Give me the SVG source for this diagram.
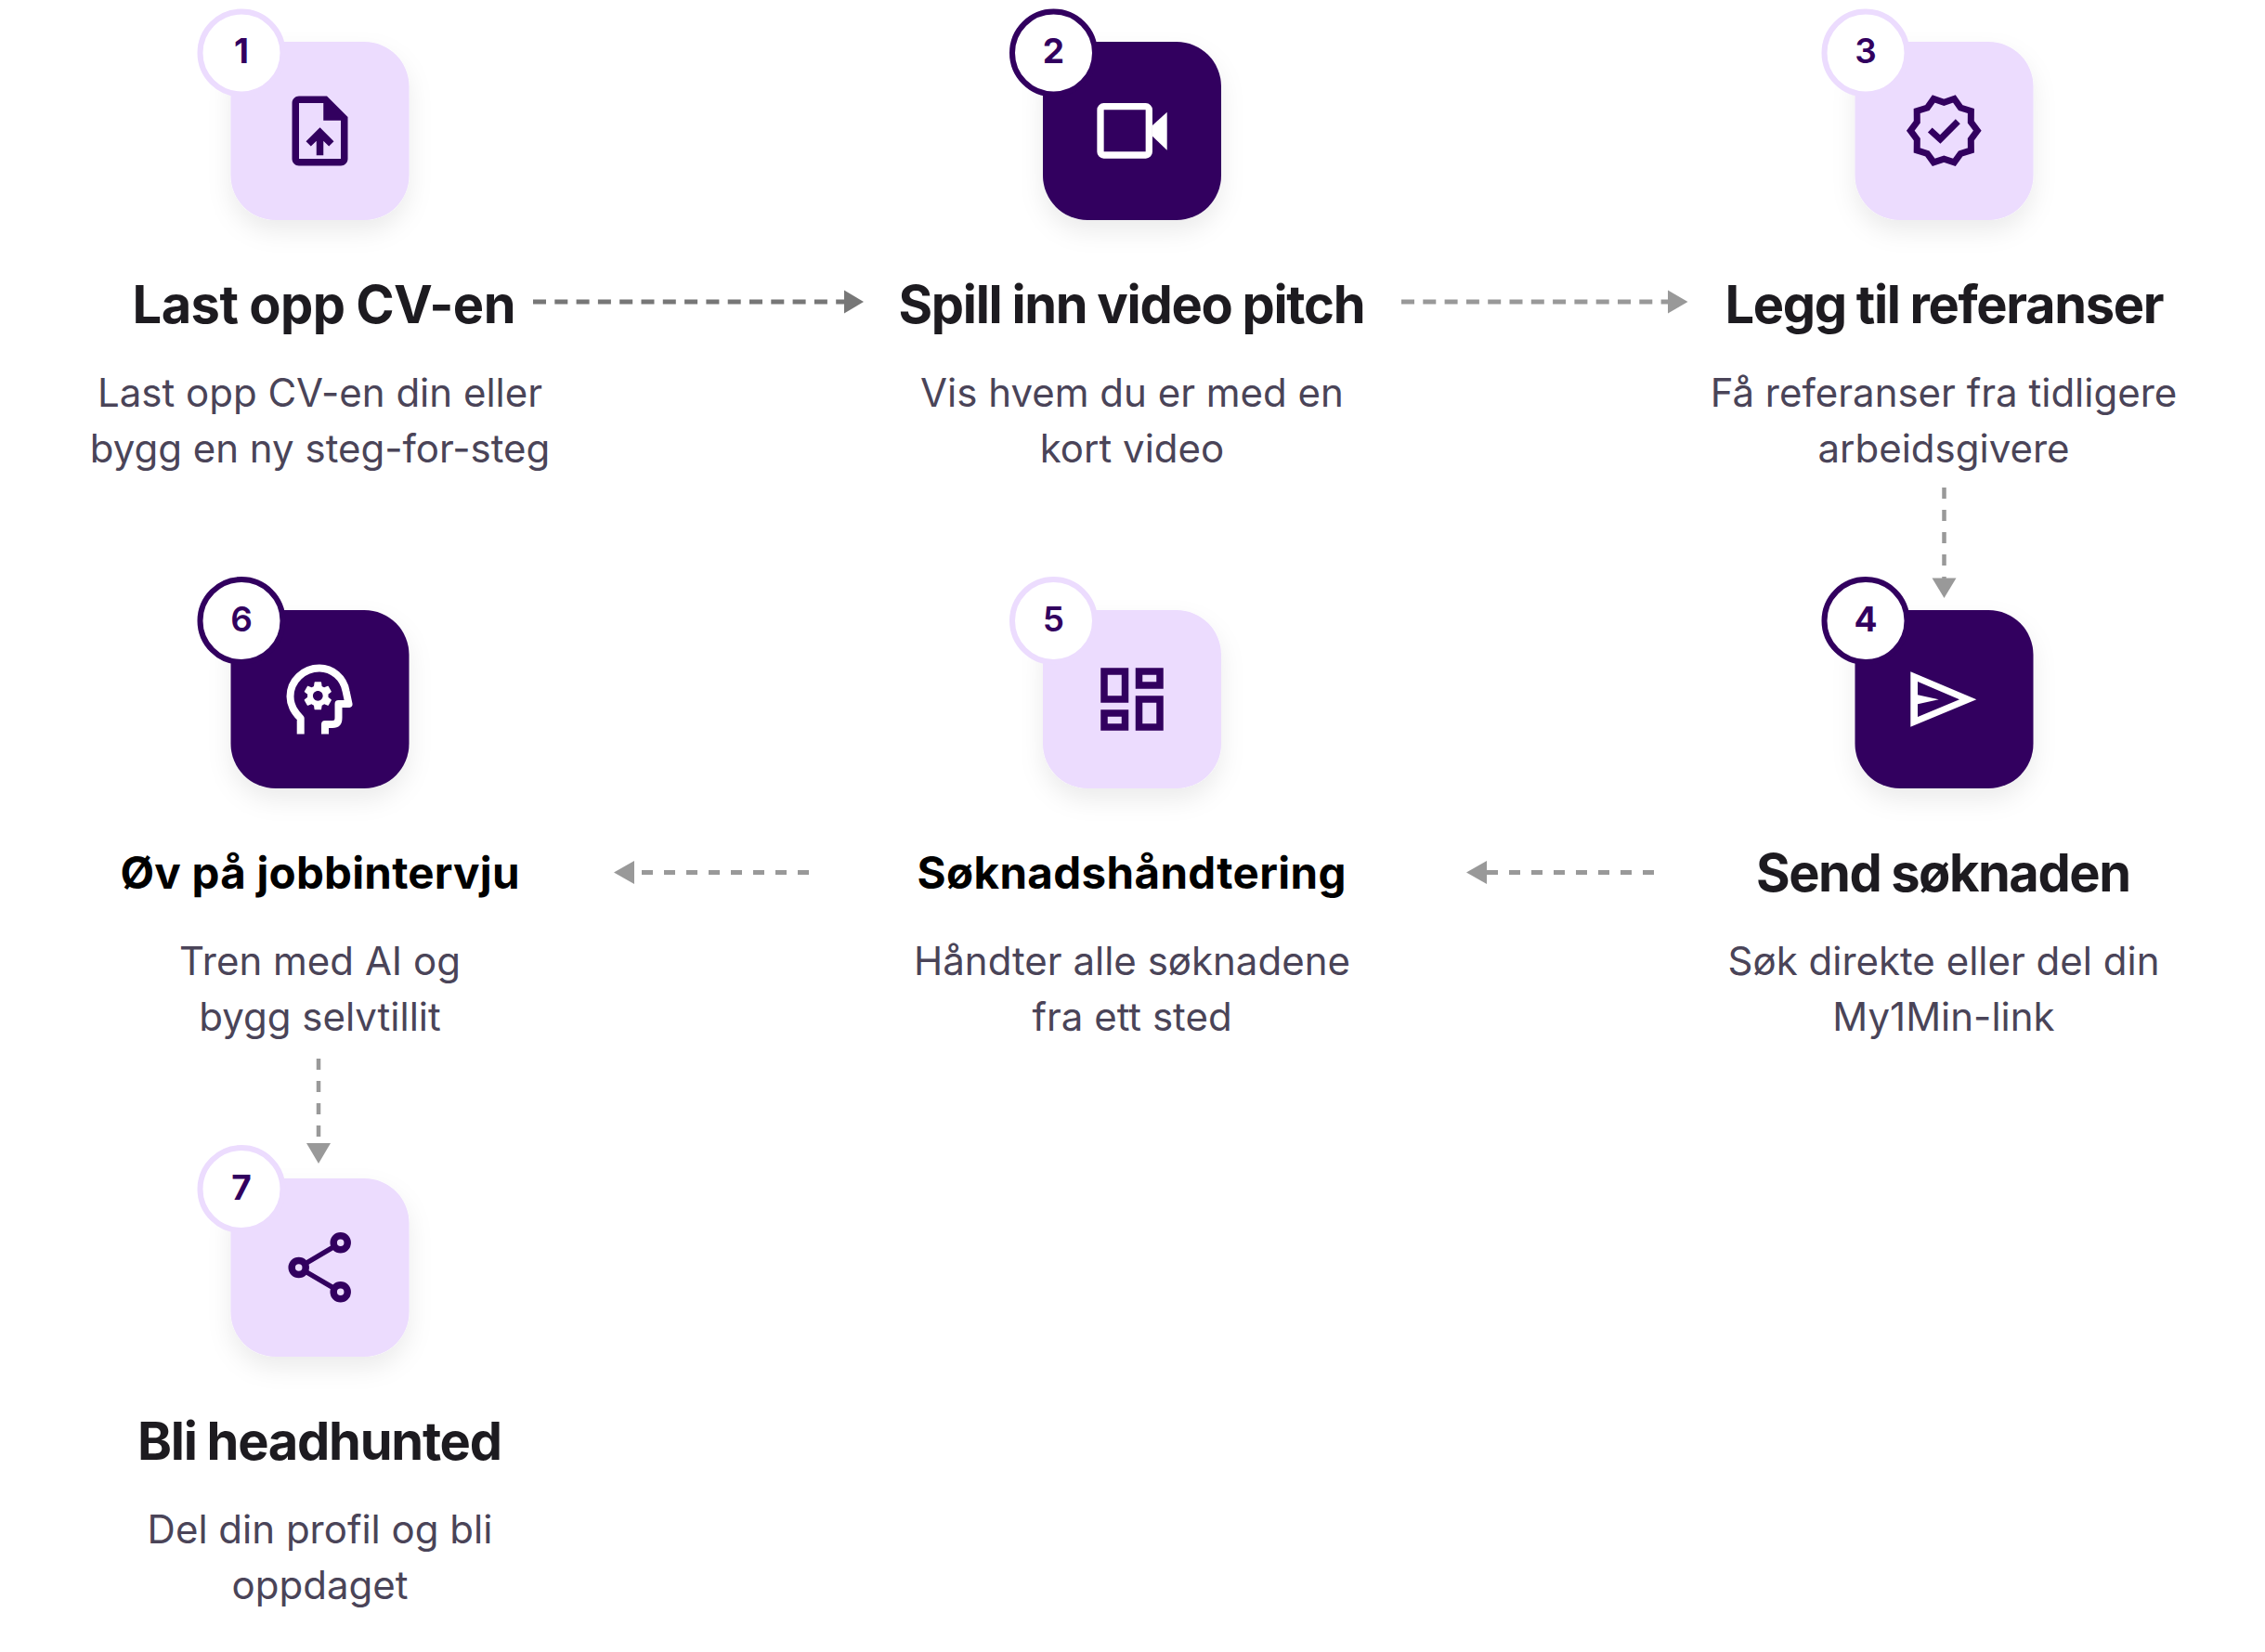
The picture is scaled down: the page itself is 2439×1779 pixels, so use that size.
<svg xmlns="http://www.w3.org/2000/svg" width="2439" height="1779" viewBox="0 0 2439 1779">
<style>
text{text-anchor:middle}
.t{font-family:"Inter","Liberation Sans",sans-serif;font-weight:700;font-size:56px;fill:#1d1b20;word-spacing:-1px}
.t2{font-family:"Inter","Liberation Sans",sans-serif;font-weight:700;font-size:47.5px;fill:#000}
.b{font-family:"Inter","Liberation Sans",sans-serif;font-weight:400;font-size:42px;fill:#4a4458}
.n{font-family:"Inter","Liberation Sans",sans-serif;font-weight:700;font-size:37px;fill:#32005f}
.light{fill:#ecdcfe;filter:url(#sh)}
.dark{fill:#32005f;filter:url(#sh)}
.cl{fill:#fff;stroke:#ecdcfe;stroke-width:6}
.cd{fill:#fff;stroke:#32005f;stroke-width:6}
.c{fill:none;stroke:#999;stroke-width:5;stroke-dasharray:12 12}
.ah{fill:#999}
</style>
<defs>
<filter id="sh" x="-30%" y="-30%" width="160%" height="170%"><feDropShadow dx="0" dy="12" stdDeviation="13" flood-color="#000" flood-opacity=".08"/></filter>
</defs>
<rect width="2439" height="1779" fill="#fff"/>
<g id="connectors">
<path class="c" style="stroke:#777;stroke-dasharray:14 9.3" d="M574 325H910"/><path class="ah" style="fill:#777" d="M909 312.5L930 325L909 337.5Z"/>
<path class="c" style="stroke-dasharray:14 9.3" d="M1509 325H1796"/><path class="ah" d="M1796 312.5L1817.5 325L1796 337.5Z"/>
<path class="c" style="stroke-width:4.5" d="M2093.5 525V624"/><path class="ah" d="M2080.5 622.5H2106.5L2093.5 644Z"/>
<path class="c" d="M1781 939.5H1600"/><path class="ah" d="M1601 927L1579 939.5L1601 952Z"/>
<path class="c" d="M871 939.5H682"/><path class="ah" d="M683 927L661 939.5L683 952Z"/>
<path class="c" style="stroke-width:4.5" d="M343 1140V1232"/><path class="ah" d="M330 1231H356L343 1253Z"/>
</g>
<g id="node-1">
<rect class="light" x="248.5" y="45" width="192" height="192" rx="48"/>
<circle class="cl" cx="260" cy="57" r="44.5"/>
<text class="n" x="260" y="68">1</text>
<path transform="translate(299.5 96) scale(3.75)" fill="#32005f" d="M14 2H6c-1.1 0-1.99.9-1.99 2L4 20c0 1.1.89 2 1.99 2H18c1.1 0 2-.9 2-2V8l-6-6zm4 18H6V4h7v5h5v11zM8 15.01l1.41 1.41L11 14.84V19h2v-4.16l1.59 1.59L16 15.01 12.01 11z"/>
<text class="t" x="349" y="348" textLength="413">Last opp CV-en</text>
<text class="b" x="344.5" y="438">Last opp CV-en din eller</text>
<text class="b" x="344.5" y="498">bygg en ny steg-for-steg</text>
</g>
<g id="node-2">
<rect class="dark" x="1123" y="45" width="192" height="192" rx="48"/>
<circle class="cd" cx="1134.5" cy="57" r="44.5"/>
<text class="n" x="1134.5" y="68">2</text>
<rect x="1185" y="114.7" width="52.3" height="52.3" rx="3.5" fill="none" stroke="#fff" stroke-width="7.3"/>
<path fill="#fff" d="M1241 135L1256.7 120.7V161.7L1241 146.7Z"/>
<text class="t" x="1219" y="348" textLength="503">Spill inn video pitch</text>
<text class="b" x="1219" y="438">Vis hvem du er med en</text>
<text class="b" x="1219" y="498">kort video</text>
</g>
<g id="node-3">
<rect class="light" x="1997.5" y="45" width="192" height="192" rx="48"/>
<circle class="cl" cx="2009" cy="57" r="44.5"/>
<text class="n" style="font-weight:600" x="2009" y="68">3</text>
<g transform="translate(2093.3 140.7)" fill="none" stroke="#32005f" stroke-width="7">
<path d="M36 0L29 9.4L29.1 21.2L17.9 24.7L11.1 34.2L0 30.5L-11.1 34.2L-17.9 24.7L-29.1 21.2L-29 9.4L-36 0L-29 -9.4L-29.1 -21.2L-17.9 -24.7L-11.1 -34.2L0 -30.5L11.1 -34.2L17.9 -24.7L29.1 -21.2L29 -9.4Z"/>
<path d="M-15 -.7L-4 9.3L15 -10"/>
</g>
<text class="t" x="2094" y="348" textLength="473">Legg til referanser</text>
<text class="b" x="2093" y="438">Få referanser fra tidligere</text>
<text class="b" x="2093" y="498">arbeidsgivere</text>
</g>
<g id="node-4">
<rect class="dark" x="1997.5" y="657" width="192" height="192" rx="48"/>
<circle class="cd" cx="2009" cy="668.5" r="44.5"/>
<text class="n" x="2009" y="680">4</text>
<path fill="#fff" fill-rule="evenodd" d="M2057.3 723.3L2128.3 753.3L2057.3 782.7ZM2065 734V748.3L2087.7 753.3L2065 758.3V772L2110 753.3Z"/>
<text class="t" x="2093" y="960" textLength="404">Send søknaden</text>
<text class="b" x="2093" y="1050">Søk direkte eller del din</text>
<text class="b" x="2093" y="1110">My1Min-link</text>
</g>
<g id="node-5">
<rect class="light" x="1123" y="657" width="192" height="192" rx="48"/>
<circle class="cl" cx="1134.5" cy="668.5" r="44.5"/>
<text class="n" style="font-weight:600" x="1134.5" y="680">5</text>
<path transform="translate(1174 708) scale(3.75)" fill="#32005f" d="M19 5v2h-4V5h4M9 5v6H5V5h4m10 8v6h-4v-6h4M9 17v2H5v-2h4M21 3h-8v6h8V3zM11 3H3v10h8V3zm10 8h-8v10h8V11zm-10 4H3v6h8v-6z"/>
<text class="t2" x="1218.5" y="956.5" textLength="462">Søknadshåndtering</text>
<text class="b" x="1219" y="1050">Håndter alle søknadene</text>
<text class="b" x="1219" y="1110">fra ett sted</text>
</g>
<g id="node-6">
<rect class="dark" x="248.5" y="657" width="192" height="192" rx="48"/>
<circle class="cd" cx="260" cy="668.5" r="44.5"/>
<text class="n" style="font-weight:600" x="260" y="680">6</text>
<path fill="none" stroke="#fff" stroke-width="8" stroke-linejoin="round" d="M323.7 790.5V773.5C316 766 312.5 758 312.5 750C312.5 733 327 719.5 344 719.5C358 719.5 370 730 372.5 744L375.5 758H364.5V773Q364.5 780 358 780H350V790.5"/>
<path transform="translate(293.55 711.8) scale(3.75)" fill="#fff" fill-rule="evenodd" d="M16 10c0 .13-.01.26-.02.39l.83.66c.08.06.1.16.05.25l-.8 1.39c-.05.09-.16.12-.24.09l-.99-.4c-.21.16-.43.29-.67.39L14 13.83c-.01.1-.1.17-.2.17h-1.6c-.1 0-.18-.07-.2-.17l-.15-1.06c-.25-.1-.47-.23-.68-.39l-.99.4c-.09.03-.2 0-.25-.09l-.8-1.39c-.05-.08-.03-.19.05-.25l.84-.66c-.01-.13-.02-.26-.02-.39s.02-.27.04-.39l-.85-.66c-.08-.06-.1-.16-.05-.26l.8-1.38c.05-.09.15-.12.24-.09l1 .4c.2-.15.43-.29.67-.39L12 6.17c.02-.1.1-.17.2-.17h1.6c.1 0 .18.07.2.17l.15 1.06c.24.1.46.23.67.39l1-.4c.09-.03.2 0 .24.09l.8 1.38c.05.09.03.2-.05.26l-.85.66c.03.12.04.25.04.39zM13 8.57c-.79 0-1.43.64-1.43 1.43s.64 1.43 1.43 1.43 1.43-.64 1.43-1.43-.64-1.43-1.43-1.43z"/>
<text class="t2" x="344.5" y="956.5" textLength="430">Øv på jobbintervju</text>
<text class="b" x="344.5" y="1050">Tren med AI og</text>
<text class="b" x="344.5" y="1110">bygg selvtillit</text>
</g>
<g id="node-7">
<rect class="light" x="248.5" y="1269" width="192" height="192" rx="48"/>
<circle class="cl" cx="260" cy="1280.5" r="44.5"/>
<text class="n" x="260" y="1292">7</text>
<g fill="none" stroke="#32005f">
<path stroke-width="5.5" d="M321.7 1365L366.7 1338.3M321.7 1365L366.7 1391.3"/>
<circle cx="366.7" cy="1338.3" r="7.5" stroke-width="7.5" fill="#ecdcfe"/>
<circle cx="321.7" cy="1365" r="7.5" stroke-width="7.5" fill="#ecdcfe"/>
<circle cx="366.7" cy="1391.3" r="7.5" stroke-width="7.5" fill="#ecdcfe"/>
</g>
<text class="t" x="344.5" y="1572" textLength="393">Bli headhunted</text>
<text class="b" x="344.5" y="1662">Del din profil og bli</text>
<text class="b" x="344.5" y="1722">oppdaget</text>
</g>
</svg>
